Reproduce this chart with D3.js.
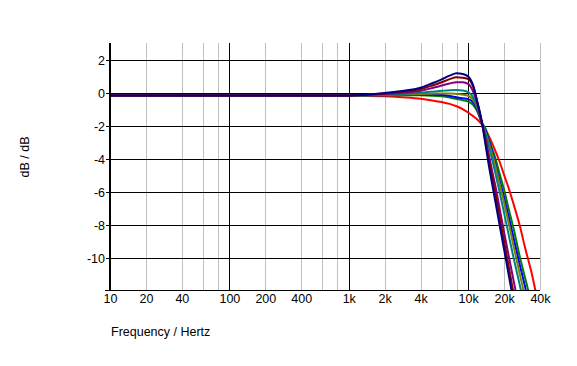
<!DOCTYPE html>
<html><head><meta charset="utf-8">
<script src="https://cdn.jsdelivr.net/npm/d3@7/dist/d3.min.js"></script>
<style>
html,body{margin:0;padding:0;background:#fff;}
svg{display:block;}
text{font-family:"Liberation Sans",Arial,sans-serif;}
</style></head>
<body>
<svg id="c" width="577" height="366"></svg>
<script>
// ---- data ----
const freqs = [10, 1000, 2000, 3000, 4000, 5000, 6000, 7000, 8000, 9000, 10000, 11000, 12000, 13000, 14000, 15000, 16000, 17000, 18000, 20000, 22000, 24000, 27000, 30000, 34000, 38000, 42000];
const seriesNames = ["red", "green", "blue", "olive", "teal", "purple", "maroon", "navy"];
const seriesColors = ["#ff0000", "#008000", "#0000ff", "#808000", "#008080", "#800080", "#800000", "#000080"];
const redDb    = [-0.15, -0.16, -0.2, -0.27, -0.35, -0.45, -0.55, -0.66, -0.8, -0.97, -1.18, -1.4, -1.62, -1.9, -2.25, -2.65, -3.1, -3.55, -4.0, -4.96, -5.83, -6.72, -8.0, -9.38, -10.9, -12.5, -13.8];
const greenDb  = [-0.15, -0.15, -0.14, -0.14, -0.14, -0.16, -0.2, -0.27, -0.36, -0.44, -0.52, -0.72, -1.15, -1.8, -2.16, -2.82, -3.44, -4.0, -4.67, -5.87, -7.1, -8.2, -9.87, -11.2, -12.8, -14.3, -15.6];
const blueDb   = [-0.15, -0.15, -0.13, -0.12, -0.1, -0.1, -0.12, -0.18, -0.26, -0.32, -0.37, -0.55, -1.05, -1.8, -2.27, -2.95, -3.6, -4.35, -5.06, -6.33, -7.57, -8.77, -10.38, -11.75, -13.6, -15.1, -16.4];
const oliveDb  = [-0.15, -0.15, -0.12, -0.09, -0.06, -0.04, -0.03, -0.03, -0.06, -0.1, -0.18, -0.4, -0.95, -1.75, -2.38, -3.1, -3.78, -4.5, -5.25, -6.64, -7.97, -9.26, -10.93, -12.4, -14.1, -15.6, -16.9];
const tealDb   = [-0.15, -0.15, -0.1, -0.04, 0.02, 0.08, 0.13, 0.17, 0.18, 0.15, 0.05, -0.25, -0.85, -1.75, -2.45, -3.29, -4.1, -4.93, -5.73, -7.26, -8.69, -9.97, -11.6, -13.1, -14.8, -16.3, -17.6];
const purpleDb = [-0.15, -0.15, -0.06, 0.03, 0.14, 0.3, 0.45, 0.58, 0.65, 0.65, 0.55, 0.1, -0.7, -1.8, -2.74, -3.85, -4.83, -5.71, -6.67, -8.43, -9.97, -11.35, -13.2, -14.9, -16.9, -18.6, -20.0];
const maroonDb = [-0.15, -0.15, -0.03, 0.1, 0.24, 0.45, 0.65, 0.84, 0.95, 0.93, 0.85, 0.4, -0.62, -1.75, -2.97, -4.15, -5.2, -6.17, -7.17, -8.97, -10.63, -12.13, -14.2, -16.0, -18.0, -19.6, -21.0];
const navyDb   = [-0.15, -0.15, 0.0, 0.15, 0.32, 0.59, 0.83, 1.05, 1.19, 1.15, 1.0, 0.48, -0.6, -1.7, -3.16, -4.5, -5.63, -6.67, -7.67, -9.47, -11.13, -12.63, -14.7, -16.5, -18.5, -20.2, -21.5];
const seriesValues = [redDb, greenDb, blueDb, oliveDb, tealDb, purpleDb, maroonDb, navyDb];

const xTickValues = [10, 20, 40, 100, 200, 400, 1000, 2000, 4000, 10000, 20000, 40000];
const xTickLabels = ["10", "20", "40", "100", "200", "400", "1k", "2k", "4k", "10k", "20k", "40k"];
const xMinorGrid = [20, 40, 60, 80, 200, 400, 600, 800, 2000, 4000, 6000, 8000, 20000, 40000];
const xMajorGrid = [100, 1000, 10000];
const yTickValues = [-10, -8, -6, -4, -2, 0, 2];
const xTitle = "Frequency / Hertz";
const yTitle = "dB / dB";

// ---- layout ----
const L = 110, R = 540, T = 43.5, B = 291;
const x = d3.scaleLog().domain([10, 40000]).range([L, R]);
const y = d3.scaleLinear().domain([-12, 3]).range([B, T]);
const px = v => Math.round(v) + 0.5;

const svg = d3.select("#c");
svg.append("rect").attr("width", 577).attr("height", 366).attr("fill", "#fff");

svg.append("defs").append("clipPath").attr("id", "clip")
  .append("rect").attr("x", L).attr("y", 43).attr("width", R - L).attr("height", 290 - 43);

const grid = svg.append("g").attr("shape-rendering", "crispEdges");
grid.selectAll("line.minor").data(xMinorGrid).join("line")
  .attr("x1", d => px(x(d))).attr("x2", d => px(x(d)))
  .attr("y1", 43).attr("y2", 290)
  .attr("stroke", "#c0c0c0").attr("stroke-width", 1);
grid.selectAll("line.major").data(xMajorGrid).join("line")
  .attr("x1", d => px(x(d))).attr("x2", d => px(x(d)))
  .attr("y1", 43).attr("y2", 290)
  .attr("stroke", "#000").attr("stroke-width", 1);
grid.selectAll("line.h").data(yTickValues).join("line")
  .attr("x1", 106).attr("x2", R)
  .attr("y1", d => px(y(d))).attr("y2", d => px(y(d)))
  .attr("stroke", "#000").attr("stroke-width", 1);
grid.append("line").attr("x1", 105).attr("x2", R).attr("y1", 290.5).attr("y2", 290.5)
  .attr("stroke", "#000").attr("stroke-width", 1);

// curves
const line = d3.line()
  .x((d, i) => x(freqs[i]))
  .y(d => y(d))
  .curve(d3.curveMonotoneX);
const cg = svg.append("g").attr("clip-path", "url(#clip)");
seriesValues.forEach((vals, k) => {
  cg.append("path").datum(vals)
    .attr("d", line)
    .attr("fill", "none")
    .attr("stroke", seriesColors[k])
    .attr("stroke-width", 2)
    .attr("stroke-linejoin", "round");
});

svg.append("line").attr("x1", 110).attr("x2", 110).attr("y1", 43).attr("y2", 291)
  .attr("stroke", "#000").attr("stroke-width", 2).attr("shape-rendering", "crispEdges");

const xAxis = d3.axisBottom(x).tickValues(xTickValues)
  .tickFormat((d, i) => xTickLabels[i]).tickSize(0).tickPadding(4);
const gx = svg.append("g").attr("transform", `translate(0,${290})`).call(xAxis);
gx.select(".domain").remove();
gx.selectAll("text").attr("font-size", 12.5).attr("fill", "#000")
  .attr("font-family", '"Liberation Sans", Arial, sans-serif');

const yAxis = d3.axisLeft(y).tickValues(yTickValues)
  .tickFormat(d => String(d)).tickSize(0).tickPadding(5);
const gy = svg.append("g").attr("transform", `translate(${L},0)`).call(yAxis);
gy.select(".domain").remove();
gy.selectAll("text").attr("font-size", 12.5).attr("fill", "#000")
  .attr("font-family", '"Liberation Sans", Arial, sans-serif');

svg.append("text").attr("x", 111).attr("y", 336).attr("font-size", 12.5).attr("fill", "#000")
  .text(xTitle);
svg.append("text").attr("transform", "translate(29,157) rotate(-90)")
  .attr("text-anchor", "middle").attr("font-size", 12.5).attr("fill", "#000")
  .text(yTitle);
</script>
</body></html>
